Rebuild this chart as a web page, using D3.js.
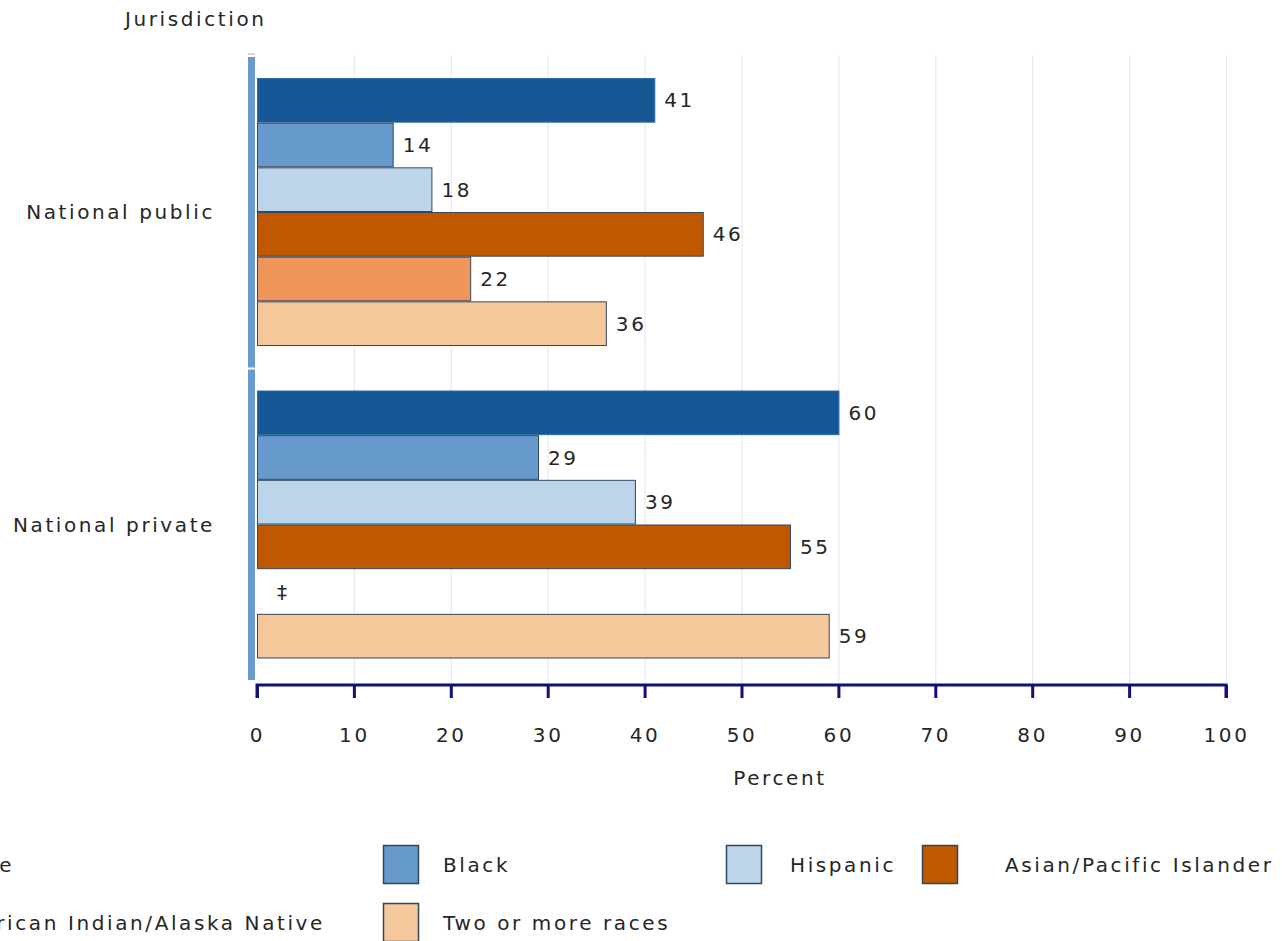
<!DOCTYPE html>
<html>
<head>
<meta charset="utf-8">
<script src="https://cdn.jsdelivr.net/npm/d3@7"></script>
<style>
  html, body { margin: 0; padding: 0; background: #fff; overflow: hidden; }
  svg { display: block; }
  text { font-family: "DejaVu Sans", Verdana, sans-serif; font-size: 20px; fill: #262626; letter-spacing: 2.6px; }
</style>
</head>
<body>
<svg id="chart" width="1282" height="941"></svg>
<script>
// ---- data ----
const groups = ["National public", "National private"];
const series = ["White", "Black", "Hispanic", "Asian/Pacific Islander", "American Indian/Alaska Native", "Two or more races"];
const nationalPublic = [41, 14, 18, 46, 22, 36];
const nationalPrivate = [60, 29, 39, 55, null, 59];
const xTicks = [0, 10, 20, 30, 40, 50, 60, 70, 80, 90, 100];
const colors = ["#155895", "#6699cc", "#bcd5ea", "#c05800", "#f0955a", "#f5c89c"];
const missingLabel = "\u2021";

const values = [nationalPublic, nationalPrivate];

const svg = d3.select("#chart");

const x = d3.scaleLinear().domain([0, 100]).range([257, 1226]);
const yGroup = d3.scaleBand().domain(groups).range([55, 680]).padding(0);
const yInner = d3.scaleBand().domain(series).range([23, 291]).padding(0);

// gridlines
svg.append("g").selectAll("line").data(xTicks.filter(d => d > 0)).join("line")
  .attr("x1", d => x(d) + 0.5).attr("x2", d => x(d) + 0.5)
  .attr("y1", 55).attr("y2", 684)
  .attr("stroke", "#e4e6ee").attr("stroke-width", 1);

// left axis band
svg.append("g").selectAll("rect").data(groups).join("rect")
  .attr("x", 248).attr("width", 7)
  .attr("y", g => yGroup(g) + 2)
  .attr("height", g => yGroup.bandwidth() - 2)
  .attr("fill", "#6a9bd0");
svg.append("line").attr("x1", 248).attr("x2", 255).attr("y1", 54).attr("y2", 54)
  .attr("stroke", "#aab").attr("stroke-width", 1);

// bars
groups.forEach((g, gi) => {
  const gSel = svg.append("g").attr("transform", `translate(0,${yGroup(g)})`);
  const rows = series.map((s, si) => ({ s, v: values[gi][si], c: colors[si] }));
  gSel.selectAll("rect").data(rows.filter(r => r.v != null)).join("rect")
    .attr("x", x(0) + 0.5)
    .attr("y", r => yInner(r.s) + 0.5)
    .attr("width", r => x(r.v) - x(0))
    .attr("height", yInner.bandwidth() - 1)
    .attr("fill", r => r.c)
    .attr("stroke", r => (r.c === colors[0] ? "#2f6aa0" : "#34465a"))
    .attr("stroke-width", 1);
  gSel.selectAll("text.val").data(rows).join("text")
    .attr("class", "val")
    .attr("x", r => r.v != null ? x(r.v) + 10 : x(0) + 20)
    .attr("y", r => yInner(r.s) + yInner.bandwidth() / 2 + 7)
    .text(r => r.v != null ? r.v : missingLabel);
  // group label
  svg.append("text")
    .attr("x", 215).attr("y", yGroup(g) + yGroup.bandwidth() / 2 + 8)
    .attr("text-anchor", "end")
    .text(g);
});

// x axis
const xAxis = d3.axisBottom(x).tickValues(xTicks).tickSize(13).tickPadding(30);
const ax = svg.append("g").attr("transform", "translate(0,685)").call(xAxis);
ax.select(".domain").attr("stroke", "#10107a").attr("stroke-width", 3)
  .attr("d", `M${x(0)},13V0H${x(100)}V13`);
ax.selectAll(".tick line").attr("stroke", "#10107a").attr("stroke-width", 3);
ax.selectAll(".tick text").attr("fill", "#262626")
  .style("font-family", '"DejaVu Sans", Verdana, sans-serif').style("font-size", "20px");

// axis titles
svg.append("text").attr("x", 125).attr("y", 26).text("Jurisdiction");
svg.append("text").attr("x", 780).attr("y", 785).attr("text-anchor", "middle").text("Percent");

// legend
const legendSwatchX = [-120, 383, 726, 922];
const legendTextX = [-57, 443, 790, 1005];
const legendRowY = [845, 903];
series.forEach((s, i) => {
  const row = i < 4 ? 0 : 1;
  const col = i < 4 ? i : i - 4;
  const sx = (i === 5) ? legendSwatchX[1] : legendSwatchX[col];
  const tx = (i === 5) ? legendTextX[1] : legendTextX[col];
  svg.append("rect")
    .attr("x", sx + 0.5).attr("y", legendRowY[row] + 0.5)
    .attr("width", 35).attr("height", 38)
    .attr("fill", colors[i]).attr("stroke", "#34465a").attr("stroke-width", 1.5);
  svg.append("text").attr("x", tx).attr("y", legendRowY[row] + 27).text(s);
});
</script>
</body>
</html>
